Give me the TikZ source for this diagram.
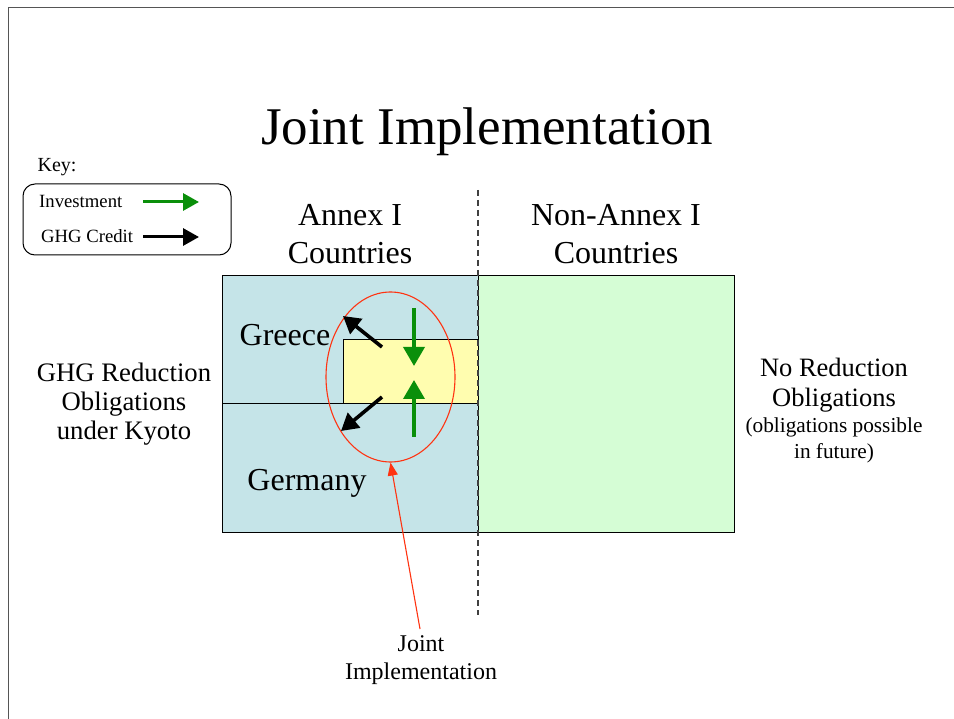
\documentclass[tikz,border=0pt]{standalone}
\usepackage{fontspec}
\setmainfont{Liberation Serif}
\usetikzlibrary{arrows.meta,shapes.geometric}
\definecolor{annexblue}{HTML}{C5E4E8}
\definecolor{nonannexgreen}{HTML}{D5FDD5}
\definecolor{jiyellow}{HTML}{FFFDAF}
\definecolor{invgreen}{HTML}{0A8F0A}
\definecolor{jired}{HTML}{FF3311}
\definecolor{framegray}{HTML}{555555}
\tikzset{
  txt/.style={anchor=base,inner sep=0pt,font=\fontsize{#1}{#1}\selectfont},
  invarrow/.style={draw=invgreen,line width=3.6pt,-{Triangle[length=19pt,width=21pt]}},
  creditarrow/.style={draw=black,line width=3.6pt,-{Triangle[length=17pt,width=19pt]}},
  keyinv/.style={draw=invgreen,line width=3pt,-{Triangle[length=16pt,width=17pt]}},
  keycredit/.style={draw=black,line width=3pt,-{Triangle[length=16pt,width=17pt]}},
  region/.style={draw=black,line width=1pt},
}
\begin{document}
\begin{tikzpicture}[x=1pt,y=-1pt]
\useasboundingbox (0,0) rectangle (954,719);
% slide frame
\draw[framegray,line width=1pt] (960,8) -- (8,8) -- (8,725);

% title
\node[txt=53] (title) at (487,145) {Joint Implementation};

% key
\node[txt=20] (keylbl) at (57,172) {Key:};
\node[draw=black,line width=1pt,rounded corners=12pt,minimum width=208pt,minimum height=71pt,inner sep=0pt] (keybox) at (127,219.5) {};
\node[txt=18.7,anchor=base west] (kinv) at (39,208) {Investment};
\node[txt=18.7,anchor=base west] (kcred) at (41,243) {GHG Credit};
\coordinate (kinvA) at (143,202);
\coordinate (kinvB) at (199,202);
\coordinate (kcredA) at (143,237);
\coordinate (kcredB) at (199,237);
\draw[keyinv] (kinvA) -- (kinvB);
\draw[keycredit] (kcredA) -- (kcredB);

% regions
\node[region,fill=annexblue,minimum width=256pt,minimum height=256pt,inner sep=0pt] (annex) at (350,404) {};
\node[region,fill=nonannexgreen,minimum width=256pt,minimum height=256pt,inner sep=0pt] (nonannex) at (606,404) {};
\coordinate (splitL) at (222,404);
\coordinate (splitR) at (478,404);
\draw[black,line width=1pt] (splitL) -- (splitR);
\node[region,fill=jiyellow,minimum width=135pt,minimum height=64pt,inner sep=0pt] (jibox) at (410.5,372) {};

% dashed divider
\coordinate (divTop) at (478,190);
\coordinate (divBot) at (478,615);
\draw[black!75,line width=1.2pt,dash pattern=on 6pt off 4pt] (divTop) -- (divBot);

% column headings
\node[txt=32] (annexA) at (350,226) {Annex I};
\node[txt=32] (annexB) at (350,264) {Countries};
\node[txt=32] (nonA) at (616,226) {Non-Annex I};
\node[txt=32] (nonB) at (616,264) {Countries};

% country labels
\node[txt=32] (greece) at (285,346) {Greece};
\node[txt=32] (germany) at (307,490) {Germany};

% side labels
\node[txt=26.7] (leftA) at (124,382) {GHG Reduction};
\node[txt=26.7] (leftB) at (124,411) {Obligations};
\node[txt=26.7] (leftC) at (124,440) {under Kyoto};
\node[txt=26.5] (rightA) at (834,377) {No Reduction};
\node[txt=26.5] (rightB) at (834,407) {Obligations};
\node[txt=21.3] (rightC) at (834,433) {(obligations possible};
\node[txt=21.3] (rightD) at (834,458) {in future)};

% joint implementation ellipse
\node[draw=jired,line width=1.1pt,ellipse,minimum width=129pt,minimum height=170pt,inner sep=0pt] (jiring) at (390.5,377) {};

% credit and investment arrows
\coordinate (c1A) at (382,347);
\coordinate (c1B) at (343,316);
\coordinate (c2A) at (382,397);
\coordinate (c2B) at (341,431);
\draw[creditarrow] (c1A) -- (c1B);
\draw[creditarrow] (c2A) -- (c2B);
\coordinate (i1A) at (414,308);
\coordinate (i1B) at (414,366);
\coordinate (i2A) at (414,437);
\coordinate (i2B) at (414,380);
\draw[invarrow] (i1A) -- (i1B);
\draw[invarrow] (i2A) -- (i2B);

% callout
\node[txt=24] (jiA) at (421,651) {Joint};
\node[txt=24] (jiB) at (421,679) {Implementation};
\coordinate (callStart) at (420,629);
\draw[jired,line width=1.1pt,-{Triangle[length=13pt,width=10pt]}] (callStart) -- (jiring.south);
\end{tikzpicture}
\end{document}
